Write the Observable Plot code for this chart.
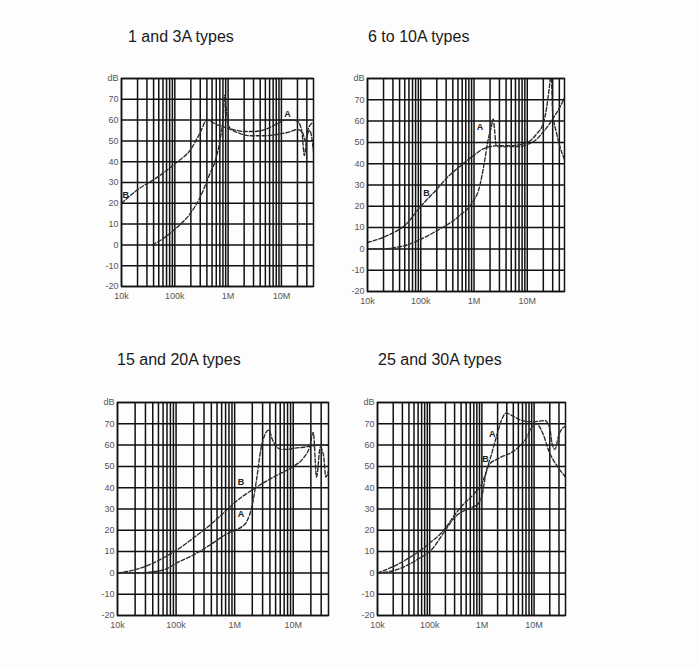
<!DOCTYPE html>
<html>
<head>
<meta charset="utf-8">
<script src="https://cdn.jsdelivr.net/npm/d3@7"></script>
<script src="https://cdn.jsdelivr.net/npm/@observablehq/plot@0.6"></script>
<style>
  html, body { margin: 0; padding: 0; background: #fdfdfd; }
  #root { position: relative; width: 699px; height: 667px; overflow: hidden; font-family: "Liberation Sans", Arial, sans-serif; }
  .title { position: absolute; font-size: 16px; line-height: 16px; color: #1a1a1a; white-space: nowrap; }
  .panel { position: absolute; }
</style>
</head>
<body>
<div id="root"></div>
<script>
// ---- Data ----
const titles = ["1 and 3A types", "6 to 10A types", "15 and 20A types", "25 and 30A types"];

const xTickValues = [1e4, 1e5, 1e6, 1e7];
const xTickLabels = ["10k", "100k", "1M", "10M"];
const yTickValues = [-20, -10, 0, 10, 20, 30, 40, 50, 60, 70, 80];
const yTickLabels = ["-20", "-10", "0", "10", "20", "30", "40", "50", "60", "70", "dB"];
const gridMultipliers = [1, 2, 3, 4, 5, 6, 7, 8, 9];
const gridDecades = [1e4, 1e5, 1e6, 1e7];

// Panel 1: 1 and 3A types
const p1A_f  = [38e3, 6e4, 1e5, 2e5, 3e5, 4.5e5, 6e5, 7e5, 8e5, 8.7e5, 9.2e5, 1.0e6, 1.1e6, 1.5e6, 2e6, 3e6, 5e6, 8e6, 1.2e7, 1.6e7, 2e7, 2.4e7, 2.7e7, 3e7, 3.4e7, 4e7];
const p1A_db = [0, 3, 7.5, 15.5, 23, 34, 42, 50, 60, 72, 66, 58, 56, 55, 54.5, 54.5, 55.5, 58, 60, 60, 59.5, 55, 43, 52, 55, 45];
const p1B_f  = [1e4, 2e4, 5e4, 1e5, 2e5, 3e5, 4e5, 6e5, 1e6, 1.5e6, 2.5e6, 5e6, 1e7, 1.5e7, 2e7, 2.5e7, 2.8e7, 3.2e7, 4e7];
const p1B_db = [20, 26.5, 33, 39, 46, 54, 60, 58, 56, 54, 52.5, 52.5, 53.5, 54.5, 55.5, 54, 50, 56, 59];

// Panel 2: 6 to 10A types
const p2A_f  = [1e4, 2e4, 3e4, 5e4, 1e5, 2e5, 5e5, 1e6, 1.2e6, 1.4e6, 1.6e6, 1.8e6, 2.1e6, 2.3e6, 2.45e6, 2.6e6, 3e6, 5e6, 7e6, 1e7, 1.5e7, 2e7, 2.5e7, 3e7, 4e7, 5e7];
const p2A_db = [0, 0, 0.5, 1.5, 4.5, 8.5, 15, 23, 27, 34, 42, 50, 57, 61, 55, 48.5, 48, 48, 48, 49, 51.5, 55, 58, 61, 66, 71];
const p2B_f  = [1e4, 2e4, 3e4, 5e4, 1e5, 2e5, 3e5, 5e5, 1e6, 1.5e6, 2e6, 3e6, 5e6, 1e7, 1.5e7, 2e7, 2.3e7, 2.6e7, 2.8e7, 3e7, 3.5e7, 4e7, 5e7];
const p2B_db = [3, 5.5, 7.5, 11, 20, 28, 33, 38, 44, 47, 48, 48.5, 48.5, 50, 54, 59, 66, 76, 82, 64, 55, 49, 42];

// Panel 3: 15 and 20A types
const p3A_f  = [1e4, 2e4, 4e4, 7e4, 1e5, 2e5, 4e5, 7e5, 1e6, 1.3e6, 1.6e6, 2e6, 2.4e6, 2.8e6, 3.3e6, 3.8e6, 4.5e6, 6.3e6, 8e6, 1e7, 1.5e7, 2e7, 3e7, 4e7];
const p3A_db = [0, 0, 0.5, 2, 4.5, 8.5, 13.5, 18, 20, 21.5, 24, 32, 45, 58, 65, 67, 62, 58, 58, 58.5, 59, 59.5, 60, 60];
const p3B_f  = [1e4, 2e4, 4e4, 7e4, 1e5, 2e5, 4e5, 7e5, 1e6, 2e6, 3e6, 5e6, 1e7, 1.5e7, 1.9e7, 2.2e7, 2.5e7, 2.9e7, 3.3e7, 3.6e7, 4e7];
const p3B_db = [0, 1.5, 4.5, 8, 10.5, 16.5, 23, 29, 33, 39, 42, 45.5, 50, 54, 59, 66, 45, 59, 55, 45, 48];

// Panel 4: 25 and 30A types
const p4A_f  = [1e4, 2e4, 4e4, 7e4, 1e5, 2e5, 3e5, 4e5, 6e5, 8.5e5, 1e6, 1.2e6, 1.5e6, 1.9e6, 2.4e6, 2.9e6, 4e6, 5.2e6, 8e6, 1e7, 1.6e7, 2e7, 2.2e7, 2.5e7, 3e7, 4e7];
const p4A_db = [0, 1, 4, 7.5, 10, 20, 26, 28.5, 30.5, 32.5, 36, 47, 55, 64, 72, 75, 73.5, 72, 71, 71, 71.5, 68, 61, 58, 65, 69];
const p4B_f  = [1e4, 2e4, 4e4, 7e4, 1e5, 2e5, 2.6e5, 4e5, 7e5, 1e6, 1.4e6, 2e6, 4.5e6, 7e6, 9.5e6, 1.1e7, 1.5e7, 1.9e7, 3e7, 4e7];
const p4B_db = [0, 3, 7, 11, 14, 21, 25, 31, 37, 42, 51, 53.5, 58, 63, 69, 70, 65, 57.5, 49, 45];

// Curve label positions [frequency, dB]
const labelText = ["A", "B"];
const p1Labels = [[1.3e7, 63], [1.2e4, 24]];
const p2Labels = [[1.3e6, 57], [1.28e5, 26]];
const p3Labels = [[1.28e6, 27.5], [1.28e6, 42.5]];
const p4Labels = [[1.58e6, 65], [1.17e6, 53.5]];

// ---- Layout ----
const panels = [
  {title: titles[0], A: [p1A_f, p1A_db], B: [p1B_f, p1B_db], labels: p1Labels, xmax: 4e7,
   frame: {left: 121, top: 78, width: 192, height: 208}, titlePos: {left: 128, top: 29}},
  {title: titles[1], A: [p2A_f, p2A_db], B: [p2B_f, p2B_db], labels: p2Labels, xmax: 5e7,
   frame: {left: 367, top: 78, width: 197, height: 213}, titlePos: {left: 368, top: 29}},
  {title: titles[2], A: [p3A_f, p3A_db], B: [p3B_f, p3B_db], labels: p3Labels, xmax: 4e7,
   frame: {left: 117, top: 402, width: 211, height: 213}, titlePos: {left: 117, top: 352}},
  {title: titles[3], A: [p4A_f, p4A_db], B: [p4B_f, p4B_db], labels: p4Labels, xmax: 4e7,
   frame: {left: 377, top: 402, width: 188, height: 213}, titlePos: {left: 378, top: 352}}
];

const mL = 30, mR = 6, mT = 10, mB = 22;
const root = document.getElementById("root");

function toRows(fs, dbs) { return fs.map((f, i) => ({f, db: dbs[i]})); }

for (const p of panels) {
  const t = document.createElement("div");
  t.className = "title";
  t.style.left = p.titlePos.left + "px";
  t.style.top = p.titlePos.top + "px";
  t.textContent = p.title;
  root.appendChild(t);

  const gridX = gridDecades.flatMap(d => gridMultipliers.map(m => d * m)).filter(v => v < p.xmax * 0.999);
  const rowsA = toRows(p.A[0], p.A[1]);
  const rowsB = toRows(p.B[0], p.B[1]);
  const labs = p.labels.map((l, i) => ({f: l[0], db: l[1], t: labelText[i]}));

  const chart = Plot.plot({
    width: p.frame.width + mL + mR,
    height: p.frame.height + mT + mB,
    marginLeft: mL, marginRight: mR, marginTop: mT, marginBottom: mB,
    style: {fontFamily: "'Liberation Sans', Arial, sans-serif", fontSize: "9px", background: "transparent", overflow: "visible"},
    x: {type: "log", domain: [1e4, p.xmax]},
    y: {domain: [-20, 80]},
    marks: [
      Plot.ruleX(gridX, {stroke: "#111", strokeWidth: 1.5}),
      Plot.ruleY(yTickValues, {stroke: "#111", strokeWidth: 1.5}),
      Plot.line(rowsA, {x: "f", y: "db", stroke: "#2a2a2a", strokeWidth: 1.35, strokeDasharray: "4,2", curve: "monotone-x", clip: true}),
      Plot.line(rowsB, {x: "f", y: "db", stroke: "#2a2a2a", strokeWidth: 1.35, strokeDasharray: "4,2", curve: "monotone-x", clip: true}),
      Plot.text(labs, {x: "f", y: "db", text: "t", fontSize: 9, fontWeight: "bold", fill: "#222"}),
      Plot.frame({stroke: "#111", strokeWidth: 1.5}),
      Plot.axisX({ticks: xTickValues, tickFormat: d => xTickLabels[xTickValues.indexOf(d)], tickSize: 0, tickPadding: 6, color: "#555", label: null}),
      Plot.axisY({ticks: yTickValues, tickFormat: d => yTickLabels[yTickValues.indexOf(d)], tickSize: 0, tickPadding: 3, color: "#555", label: null})
    ]
  });
  const wrap = document.createElement("div");
  wrap.className = "panel";
  wrap.style.left = (p.frame.left - mL) + "px";
  wrap.style.top = (p.frame.top - mT) + "px";
  wrap.appendChild(chart);
  root.appendChild(wrap);
}
</script>
</body>
</html>
